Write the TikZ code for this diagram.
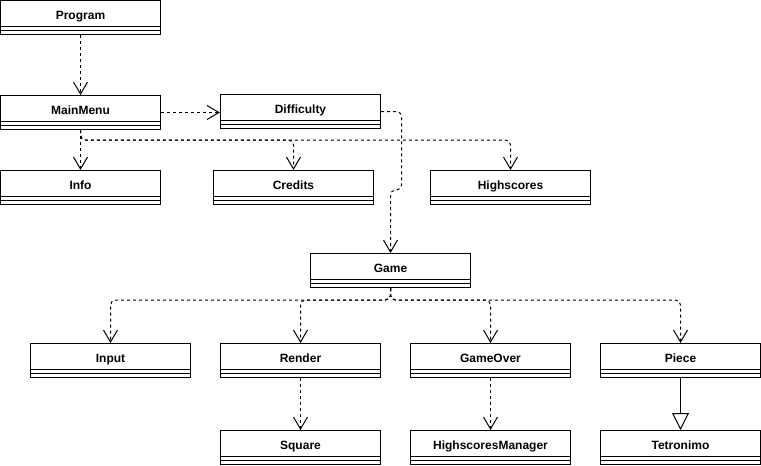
\documentclass[tikz,border=0pt]{standalone}
\usepackage{fontspec}
\setmainfont{Liberation Sans}
\usetikzlibrary{arrows.meta}
\begin{document}
\begin{tikzpicture}[x=0.75pt,y=-0.75pt,line width=0.75pt,
  classbox/.style={draw,rectangle,fill=white,minimum width=120pt,minimum height=25.5pt,
    inner sep=0pt,text height=8.25pt,text depth=6pt,font=\fontsize{9}{10}\selectfont\bfseries},
  dep/.style={dash pattern=on 2.25pt off 2.25pt,rounded corners=3.75pt,
    -{Straight Barb[length=9pt,width=10.5pt,line width=0.75pt]}},
  inherit/.style={-{Triangle[open,length=12.75pt,width=12.75pt,fill=white]}}]
\useasboundingbox (0,0) rectangle (761,465);

% classes (centre sits 17px below the top edge)
\node[classbox] (program)    at (80.5,17.5)  {Program};
\node[classbox] (mainmenu)   at (80.5,112.5) {MainMenu};
\node[classbox] (difficulty) at (300.5,111.5) {Difficulty};
\node[classbox] (info)       at (80.5,187.5) {Info};
\node[classbox] (credits)    at (293.5,187.5) {Credits};
\node[classbox] (highscores) at (510.5,187.5) {Highscores};
\node[classbox] (game)       at (390.5,270.5) {Game};
\node[classbox] (input)      at (110.5,360.5) {Input};
\node[classbox] (render)     at (300.5,360.5) {Render};
\node[classbox] (gameover)   at (490.5,360.5) {GameOver};
\node[classbox] (piece)      at (680.5,360.5) {Piece};
\node[classbox] (square)     at (300.5,447.5) {Square};
\node[classbox] (hsmanager)  at (490.5,447.5) {HighscoresManager};
\node[classbox] (tetronimo)  at (680.5,447.5) {Tetronimo};

% empty attribute and operation compartments
\foreach \c in {program,mainmenu,difficulty,info,credits,highscores,game,
                input,render,gameover,piece,square,hsmanager,tetronimo}{
  \draw ([yshift=-19.5pt]\c.north west) -- ([yshift=-19.5pt]\c.north east);
  \draw ([yshift=-22.5pt]\c.north west) -- ([yshift=-22.5pt]\c.north east);
}

% dependencies
\draw[dep] (program.south) -- (mainmenu.north);
\draw[dep] (mainmenu.east) -- (difficulty.west |- mainmenu.east);
\draw[dep] (mainmenu.south) -- (info.north);
\draw[dep] (mainmenu.south) -- (80.5,140) -| (credits.north);
\draw[dep] (mainmenu.south) -- (80.5,140) -| (highscores.north);
\draw[dep] (difficulty.east) -- (401.5,111.5) -- (401.5,190) -- (390.5,190) -- (game.north);
\draw[dep] (game.south) -- (390.5,300) -| (input.north);
\draw[dep] (game.south) -- (390.5,300) -| (render.north);
\draw[dep] (game.south) -- (390.5,300) -| (gameover.north);
\draw[dep] (game.south) -- (390.5,300) -| (piece.north);
\draw[dep] (render.south) -- (square.north);
\draw[dep] (gameover.south) -- (hsmanager.north);

% generalisation
\draw[inherit] (piece.south) -- (tetronimo.north);
\end{tikzpicture}
\end{document}
